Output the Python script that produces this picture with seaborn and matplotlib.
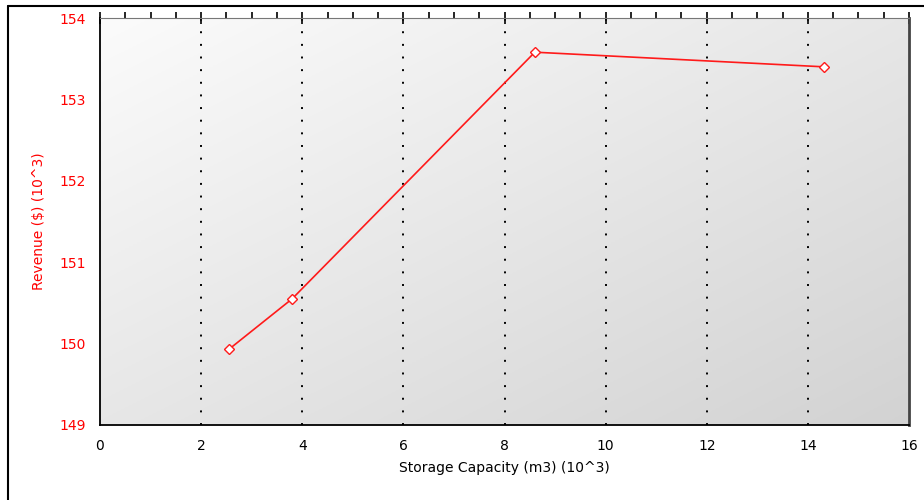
import numpy as np
import pandas as pd
import matplotlib
matplotlib.use("Agg")
import matplotlib.pyplot as plt
from matplotlib.ticker import MultipleLocator
import seaborn as sns

# values
storage_capacity = [2.55, 3.80, 8.60, 14.32]   # m3 (10^3)
revenue = [149.93, 150.55, 153.58, 153.40]      # $ (10^3)
x_ticks = [0, 2, 4, 6, 8, 10, 12, 14, 16]
y_ticks = [149, 150, 151, 152, 153, 154]

df = pd.DataFrame({"capacity": storage_capacity, "revenue": revenue})

sns.set_style("white")
plt.rcParams["font.family"] = ["DejaVu Sans"]

fig = plt.figure(figsize=(9.24, 5), dpi=100)
ax = fig.add_axes([0.1082, 0.15, 0.8756, 0.814])

# gradient background, light top-left to grey bottom-right
gx, gy = np.meshgrid(np.linspace(0, 1, 200), np.linspace(0, 1, 200))
t = 0.5 * gx + 0.5 * gy
level = 0.985 - 0.16 * t
rgb = np.dstack([level, level, level])
ax.imshow(rgb, extent=[0, 16, 149, 154], aspect="auto", origin="upper", zorder=0)

sns.lineplot(data=df, x="capacity", y="revenue", ax=ax, color="#ff1a1a",
             linewidth=1.2, marker="D", markersize=5.5,
             markerfacecolor="white", markeredgecolor="#ff1a1a",
             markeredgewidth=1.0, zorder=3)

ax.set_xlim(0, 16)
ax.set_ylim(149, 154)
ax.set_xticks(x_ticks)
ax.set_yticks(y_ticks)
ax.xaxis.set_minor_locator(MultipleLocator(0.5))
ax.yaxis.set_minor_locator(MultipleLocator(0.2))

for xv in x_ticks[1:-1]:
    ax.axvline(xv, color="black", linestyle=(0, (1, 5.5)), linewidth=1.4, zorder=1)

ax.tick_params(axis="both", which="major", direction="inout", length=8,
               width=1.2, labelsize=10)
ax.tick_params(axis="both", which="minor", direction="out", length=4, width=1.2)
ax.tick_params(axis="x", top=True, which="both", colors="black", labelcolor="black")
ax.tick_params(axis="x", which="major", pad=6)
ax.tick_params(axis="y", colors="black", labelcolor="red", pad=6)

for side in ["left", "bottom"]:
    ax.spines[side].set_color("black")
    ax.spines[side].set_linewidth(1.3)
ax.spines["top"].set_color("#777777")
ax.spines["right"].set_color("#444444")
ax.spines["right"].set_linewidth(2)

ax.set_xlabel("Storage Capacity (m3) (10^3)", fontsize=10, color="black", labelpad=6)
ax.set_ylabel("Revenue ($) (10^3)", fontsize=10, color="red", labelpad=10)

# outer frame (top and left edges visible)
fig.add_artist(plt.Line2D([8 / 924, 1], [1 - 6 / 500, 1 - 6 / 500],
                          color="black", linewidth=1.5, transform=fig.transFigure))
fig.add_artist(plt.Line2D([8 / 924, 8 / 924], [0, 1 - 6 / 500],
                          color="black", linewidth=1.5, transform=fig.transFigure))

fig.savefig("out.png", dpi=100)
